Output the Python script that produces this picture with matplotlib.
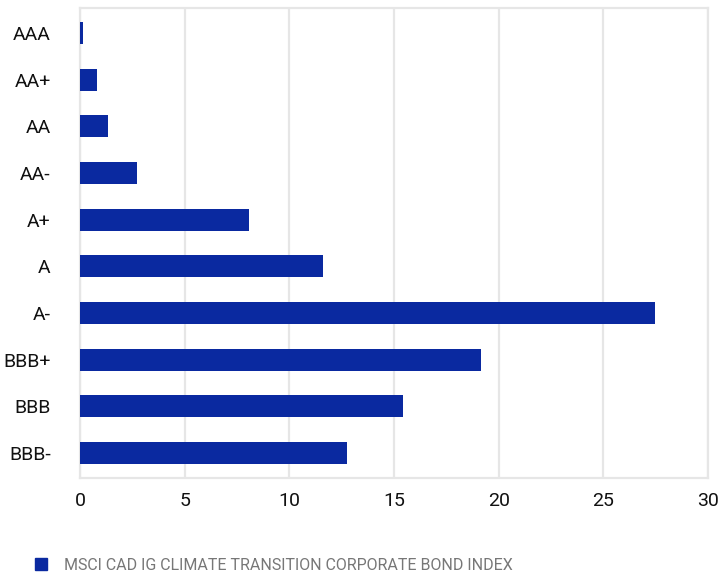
import matplotlib.pyplot as plt
from matplotlib.lines import Line2D

plt.rcParams['font.family'] = ['Roboto', 'DejaVu Sans']

# ratings, top to bottom
ratings = ["AAA", "AA+", "AA", "AA-", "A+", "A", "A-", "BBB+", "BBB", "BBB-"]
weights = [0.15, 0.8, 1.35, 2.7, 8.05, 11.6, 27.45, 19.15, 15.45, 12.75]
x_ticks = [0, 5, 10, 15, 20, 25, 30]
series_name = "MSCI CAD IG CLIMATE TRANSITION CORPORATE BOND INDEX"

bar_color = "#0A29A0"
grid_color = "#E6E6E6"

fig = plt.figure(figsize=(7.22, 5.73), dpi=100)
ax = fig.add_axes([80 / 722, 1 - 478 / 573, 628 / 722, 470 / 573])

ax.barh(range(len(ratings)), weights, height=0.47, color=bar_color, zorder=3)

ax.set_xlim(0, 30)
ax.set_ylim(len(ratings) - 1 + 0.535, -0.535)
ax.set_xticks(x_ticks)
ax.set_xticklabels([str(t) for t in x_ticks])
ax.set_yticks(range(len(ratings)))
ax.set_yticklabels(ratings)
ax.tick_params(axis="y", length=0, pad=21, labelsize=14, labelcolor="#111111")
ax.tick_params(axis="x", length=0, pad=10, labelsize=14, labelcolor="#111111")

ax.grid(axis="x", color=grid_color, linewidth=1.6, zorder=0)
for s in ax.spines.values():
    s.set_color(grid_color)
    s.set_linewidth(1.6)

handle = Line2D([], [], marker="s", linestyle="none", markersize=8.5,
                markerfacecolor=bar_color, markeredgecolor=bar_color)
fig.legend([handle], [series_name], loc="center left",
           bbox_to_anchor=(27 / 722, 1 - 565 / 573), frameon=False,
           fontsize=11.5, labelcolor="#777777", handletextpad=0.9,
           handlelength=1.0, borderaxespad=0)

fig.savefig("out.png", dpi=100)
